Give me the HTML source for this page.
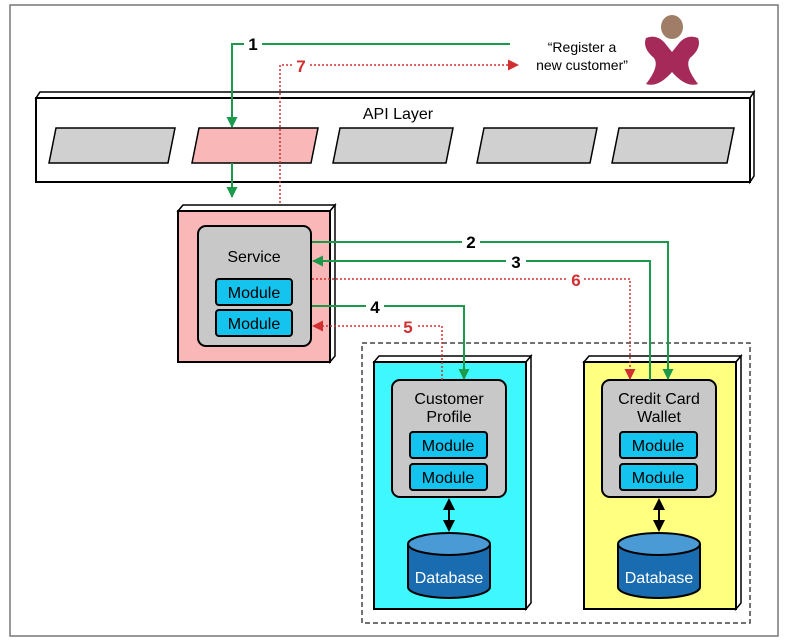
<!DOCTYPE html>
<html><head><meta charset="utf-8"><style>
html,body{margin:0;padding:0;background:#fff;}
svg{display:block;font-family:"Liberation Sans",sans-serif;}
</style></head><body>
<svg width="788" height="643" viewBox="0 0 788 643" xmlns="http://www.w3.org/2000/svg">
<defs>
<marker id="ag" markerWidth="11" markerHeight="11" refX="10" refY="5.5" orient="auto" markerUnits="userSpaceOnUse"><path d="M0,0 L11,5.5 L0,11 z" fill="#1a9a4a"/></marker>
<marker id="ar" markerWidth="11" markerHeight="11" refX="10" refY="5.5" orient="auto" markerUnits="userSpaceOnUse"><path d="M0,0 L11,5.5 L0,11 z" fill="#d03030"/></marker>
<marker id="ak" markerWidth="12" markerHeight="12" refX="10" refY="6" orient="auto-start-reverse" markerUnits="userSpaceOnUse"><path d="M0,0 L12,6 L0,12 z" fill="#000"/></marker>
</defs>
<rect x="10" y="5" width="768" height="631" fill="#fff" stroke="#777" stroke-width="1.5"/>
<!-- API layer -->
<path d="M36,98 L40,92 L754,92 L750,98 Z" fill="#fff" stroke="#000" stroke-width="1.5"/>
<path d="M750,98 L754,92 L754,176 L750,182 Z" fill="#fff" stroke="#000" stroke-width="1.5"/>
<rect x="36" y="98" width="714" height="84" fill="#fff" stroke="#000" stroke-width="2"/>
<text x="398" y="119" font-size="16" text-anchor="middle">API Layer</text>
<g stroke="#000" stroke-width="1.5" fill="#d0d0d0">
<path d="M56,128 L175,128 L168,163 L49,163 Z"/>
<path d="M199,128 L318,128 L311,163 L192,163 Z" fill="#f9b7b7"/>
<path d="M340,128 L453,128 L446,163 L333,163 Z"/>
<path d="M484,128 L597,128 L590,163 L477,163 Z"/>
<path d="M619,128 L734,128 L727,163 L612,163 Z"/>
</g>
<!-- person -->
<ellipse cx="672" cy="27" rx="11" ry="12" fill="#a07d66"/>
<path d="M646,38 Q656,34 664,42 L672,52 L680,42 Q688,34 698,38 Q702,48 690,58 Q684,66 698,84 Q686,88 672,72 Q658,88 646,84 Q660,66 654,58 Q642,48 646,38 Z" fill="#a52a5a"/>
<text x="582" y="52" font-size="14" text-anchor="middle">“Register a</text>
<text x="582" y="70" font-size="14" text-anchor="middle">new customer”</text>
<!-- line 1 -->
<path d="M510,44 L262,44 M244,44 L232,44 L232,127" fill="none" stroke="#1a9a4a" stroke-width="2" marker-end="url(#ag)"/>
<text x="253" y="50" font-size="17" font-weight="bold" text-anchor="middle">1</text>
<path d="M232,163 L232,197" fill="none" stroke="#1a9a4a" stroke-width="2" marker-end="url(#ag)"/>
<!-- line 7 -->
<path d="M280,203 L280,65 L292,65 M310,65 L518,65" fill="none" stroke="#d03030" stroke-width="1.5" stroke-dasharray="2,2" marker-end="url(#ar)"/>
<text x="301" y="72" font-size="17" font-weight="bold" fill="#d03030" text-anchor="middle">7</text>
<!-- service -->
<path d="M178,211 L183,205 L335,205 L330,211 Z" fill="#fff" stroke="#000" stroke-width="1.5"/>
<path d="M330,211 L335,205 L335,356 L330,362 Z" fill="#fff" stroke="#000" stroke-width="1.5"/>
<rect x="178" y="211" width="152" height="151" fill="#f9b7b7" stroke="#000" stroke-width="2"/>
<rect x="198" y="226" width="113" height="120" rx="8" fill="#c8c8c8" stroke="#000" stroke-width="2"/>
<text x="254" y="262" font-size="16" text-anchor="middle">Service</text>
<rect x="216" y="279" width="76" height="26" rx="3" fill="#14c3ee" stroke="#000" stroke-width="2"/>
<text x="254" y="298" font-size="16" text-anchor="middle">Module</text>
<rect x="216" y="310" width="76" height="26" rx="3" fill="#14c3ee" stroke="#000" stroke-width="2"/>
<text x="254" y="329" font-size="16" text-anchor="middle">Module</text>
<!-- dashed container -->
<rect x="362" y="343" width="388" height="280" fill="none" stroke="#444" stroke-width="1.5" stroke-dasharray="5,3"/>
<!-- customer -->
<path d="M374,362 L379,356 L531,356 L526,362 Z" fill="#fff" stroke="#000" stroke-width="1.5"/>
<path d="M526,362 L531,356 L531,603 L526,609 Z" fill="#fff" stroke="#000" stroke-width="1.5"/>
<rect x="374" y="362" width="152" height="247" fill="#3ff8ff" stroke="#000" stroke-width="2"/>
<rect x="392" y="380" width="114" height="117" rx="8" fill="#c8c8c8" stroke="#000" stroke-width="2"/>
<text x="449" y="404" font-size="16" text-anchor="middle">Customer</text>
<text x="449" y="422" font-size="16" text-anchor="middle">Profile</text>
<rect x="410" y="432" width="77" height="26" rx="3" fill="#14c3ee" stroke="#000" stroke-width="2"/>
<text x="448" y="451" font-size="16" text-anchor="middle">Module</text>
<rect x="410" y="464" width="77" height="26" rx="3" fill="#14c3ee" stroke="#000" stroke-width="2"/>
<text x="448" y="483" font-size="16" text-anchor="middle">Module</text>
<path d="M449,500 L449,530" stroke="#000" stroke-width="2" marker-start="url(#ak)" marker-end="url(#ak)"/>
<path d="M408,544 L408,587 A41,11 0 0 0 490,587 L490,544" fill="#1a6cb0" stroke="#000" stroke-width="2"/>
<ellipse cx="449" cy="544" rx="41" ry="11" fill="#4a9ad6" stroke="#000" stroke-width="2"/>
<text x="449" y="583" font-size="16" fill="#fff" text-anchor="middle">Database</text>
<!-- credit -->
<path d="M584,362 L589,356 L741,356 L736,362 Z" fill="#fff" stroke="#000" stroke-width="1.5"/>
<path d="M736,362 L741,356 L741,603 L736,609 Z" fill="#fff" stroke="#000" stroke-width="1.5"/>
<rect x="584" y="362" width="152" height="247" fill="#ffff80" stroke="#000" stroke-width="2"/>
<rect x="602" y="380" width="114" height="117" rx="8" fill="#c8c8c8" stroke="#000" stroke-width="2"/>
<text x="659" y="404" font-size="16" text-anchor="middle">Credit Card</text>
<text x="659" y="422" font-size="16" text-anchor="middle">Wallet</text>
<rect x="620" y="432" width="77" height="26" rx="3" fill="#14c3ee" stroke="#000" stroke-width="2"/>
<text x="658" y="451" font-size="16" text-anchor="middle">Module</text>
<rect x="620" y="464" width="77" height="26" rx="3" fill="#14c3ee" stroke="#000" stroke-width="2"/>
<text x="658" y="483" font-size="16" text-anchor="middle">Module</text>
<path d="M659,500 L659,530" stroke="#000" stroke-width="2" marker-start="url(#ak)" marker-end="url(#ak)"/>
<path d="M618,544 L618,587 A41,11 0 0 0 700,587 L700,544" fill="#1a6cb0" stroke="#000" stroke-width="2"/>
<ellipse cx="659" cy="544" rx="41" ry="11" fill="#4a9ad6" stroke="#000" stroke-width="2"/>
<text x="659" y="583" font-size="16" fill="#fff" text-anchor="middle">Database</text>
<!-- arrows 2-6 (drawn on top) -->
<path d="M312,242 L462,242 M480,242 L668,242 L668,379" fill="none" stroke="#1a9a4a" stroke-width="2" marker-end="url(#ag)"/>
<text x="471" y="248" font-size="17" font-weight="bold" text-anchor="middle">2</text>
<path d="M650,380 L650,261 L526,261 M506,261 L313,261" fill="none" stroke="#1a9a4a" stroke-width="2" marker-end="url(#ag)"/>
<text x="516" y="268" font-size="17" font-weight="bold" text-anchor="middle">3</text>
<path d="M312,279 L568,279 M584,279 L630,279 L630,379" fill="none" stroke="#d03030" stroke-width="1.5" stroke-dasharray="2,2" marker-end="url(#ar)"/>
<text x="576" y="286" font-size="17" font-weight="bold" fill="#d03030" text-anchor="middle">6</text>
<path d="M312,306 L366,306 M384,306 L464,306 L464,379" fill="none" stroke="#1a9a4a" stroke-width="2" marker-end="url(#ag)"/>
<text x="375" y="313" font-size="17" font-weight="bold" text-anchor="middle">4</text>
<path d="M442,380 L442,326 L416,326 M400,326 L313,326" fill="none" stroke="#d03030" stroke-width="1.5" stroke-dasharray="2,2" marker-end="url(#ar)"/>
<text x="408" y="333" font-size="17" font-weight="bold" fill="#d03030" text-anchor="middle">5</text>
</svg>
</body></html>
